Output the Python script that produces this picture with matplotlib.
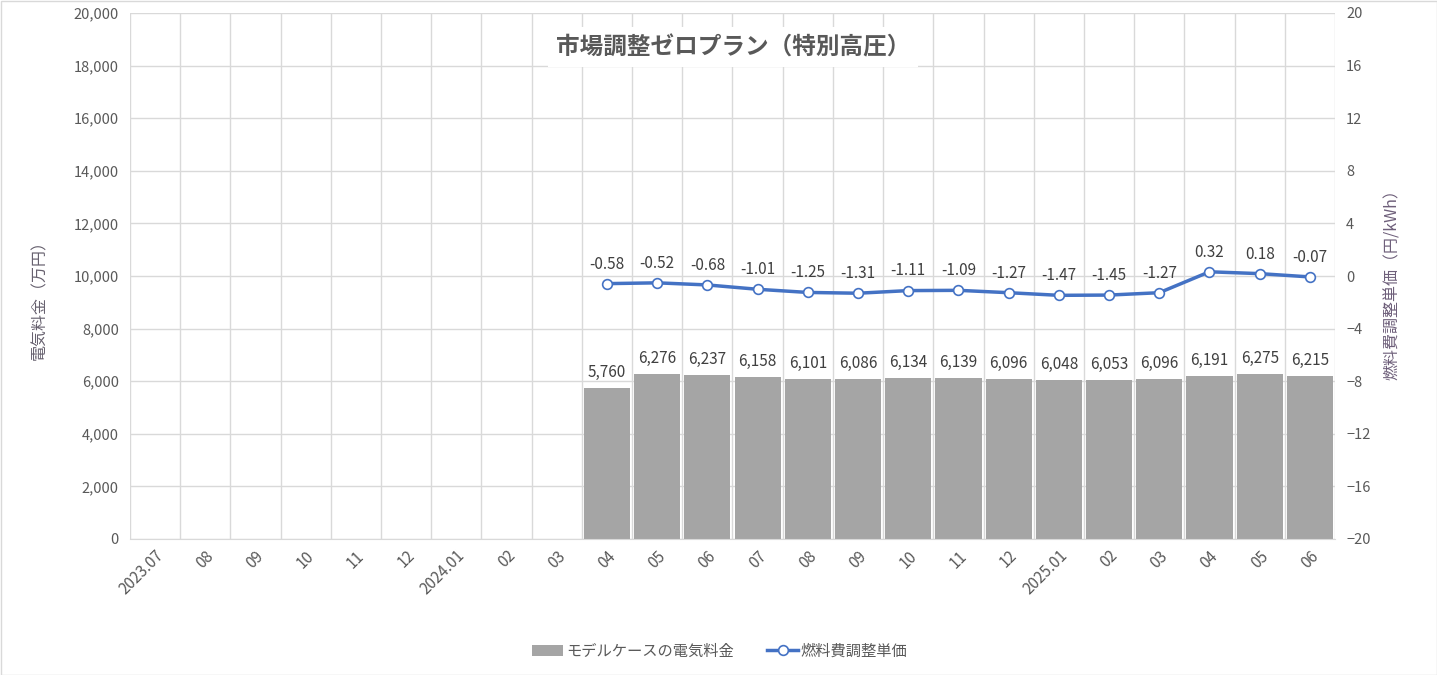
import matplotlib
matplotlib.use("Agg")
import matplotlib.pyplot as plt
from matplotlib.patches import Rectangle
import numpy as np

plt.rcParams['font.family'] = ['Noto Sans CJK JP', 'DejaVu Sans']

months = ["2023.07", "08", "09", "10", "11", "12", "2024.01", "02", "03", "04", "05", "06",
          "07", "08", "09", "10", "11", "12", "2025.01", "02", "03", "04", "05", "06"]
bill = [None]*9 + [5760, 6276, 6237, 6158, 6101, 6086, 6134, 6139, 6096, 6048, 6053, 6096, 6191, 6275, 6215]
fuel = [None]*9 + [-0.58, -0.52, -0.68, -1.01, -1.25, -1.31, -1.11, -1.09, -1.27, -1.47, -1.45, -1.27, 0.32, 0.18, -0.07]
bar_name = "モデルケースの電気料金"
line_name = "燃料費調整単価"
title = "市場調整ゼロプラン（特別高圧）"
ylabel_left = "電気料金（万円）"
ylabel_right = "燃料費調整単価（円/kWh）"

fig = plt.figure(figsize=(14.37, 6.75), dpi=100)
ax = fig.add_axes([130/1437, 1-539/675, (1335-130)/1437, (539-13)/675])
ax2 = ax.twinx()

x = np.arange(len(months))
bx = [i for i, v in zip(x, bill) if v is not None]
bv = [v for v in bill if v is not None]
fx = [i for i, v in zip(x, fuel) if v is not None]
fv = [v for v in fuel if v is not None]

ax.bar(bx, bv, width=0.92, color='#A5A5A5', zorder=2, label=bar_name)
for xi, v in zip(bx, bv):
    ax.annotate(f"{v:,}", (xi, v), xytext=(0, 5), textcoords='offset points',
                ha='center', va='bottom', fontsize=11, color='#404040')

ax.set_xlim(-0.5, len(months)-0.5)
ax.set_ylim(0, 20000)
ax.set_yticks(np.arange(0, 20001, 2000))
ax.set_yticklabels([f"{v:,}" for v in range(0, 20001, 2000)])
ax.set_xticks(x)
ax.set_xticklabels(months, rotation=45, ha='right', rotation_mode='anchor')
ax.set_xticks(np.arange(-0.5, len(months), 1), minor=True)
ax.grid(False)
ax.yaxis.grid(True, color='#D9D9D9', linewidth=1, zorder=0)
ax.xaxis.grid(True, which='minor', color='#D9D9D9', linewidth=1, zorder=0)
ax.set_axisbelow(True)
ax.tick_params(axis='both', which='both', length=0, colors='#595959')
ax.tick_params(axis='y', pad=8, labelsize=10.5)
ax.tick_params(axis='x', pad=6, labelsize=11)
for s in ax.spines.values():
    s.set_visible(False)
ax.spines['bottom'].set_visible(True)
ax.spines['bottom'].set_color('#D9D9D9')

ax2.plot(fx, fv, color='#4472C4', linewidth=2.5, marker='o', markersize=7,
         markerfacecolor='white', markeredgecolor='#4472C4', markeredgewidth=1.2,
         zorder=3, label=line_name)
for xi, v in zip(fx, fv):
    ax2.annotate(f"{v:.2f}", (xi, v), xytext=(0, 8), textcoords='offset points',
                 ha='center', va='bottom', fontsize=11, color='#404040')
ax2.set_ylim(-20, 20)
ax2.set_yticks(np.arange(-20, 21, 4))
ax2.tick_params(axis='y', length=0, labelsize=10.5, colors='#595959', pad=8)
for s in ax2.spines.values():
    s.set_visible(False)

fig.text(40/1437, 1-296/675, ylabel_left, rotation=90, ha='center', va='center',
         fontsize=11.5, color='#66606e')
fig.text(1392/1437, 1-281/675, ylabel_right, rotation=90, ha='center', va='center',
         fontsize=11.5, color='#6e5f7a')

fig.text(733/1437, 1-47/675, title, ha='center', va='center', fontsize=17,
         fontweight='bold', color='#595959',
         bbox=dict(facecolor='white', edgecolor='none', pad=6))

h1, l1 = ax.get_legend_handles_labels()
h2, l2 = ax2.get_legend_handles_labels()
fig.legend(h1 + h2, l1 + l2, loc='center', bbox_to_anchor=(720/1437, 1-651/675),
           ncol=2, frameon=False, fontsize=11, labelcolor='#595959',
           handlelength=2.0, columnspacing=2.2, handletextpad=0.2)

fig.patches.append(Rectangle((0.5/1437, 0.5/675), 1-1/1437, 1-1/675, transform=fig.transFigure,
                             fill=False, edgecolor='#D9D9D9', linewidth=1))

fig.savefig("out.png", dpi=100)
